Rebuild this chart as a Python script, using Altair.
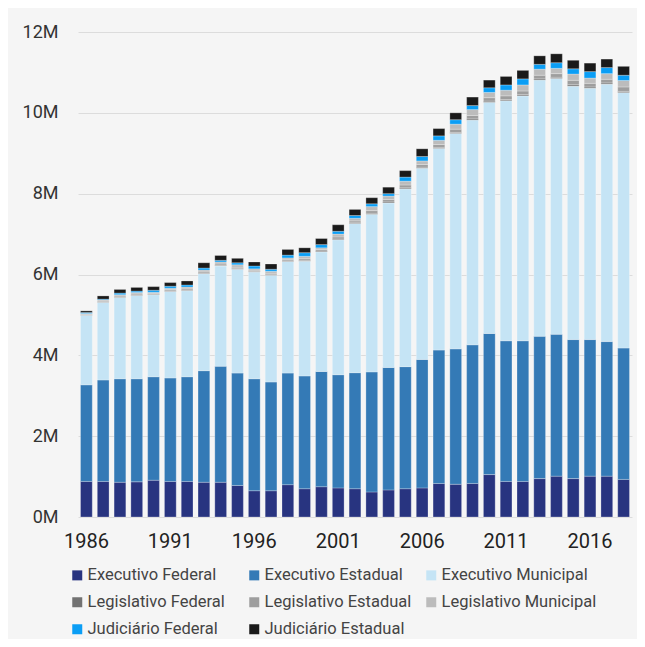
import altair as alt
import pandas as pd

FONT = "Roboto"

years = list(range(1986, 2019))

categorias = [
    "Executivo Federal", "Executivo Estadual", "Executivo Municipal",
    "Legislativo Federal", "Legislativo Estadual", "Legislativo Municipal",
    "Judiciário Federal", "Judiciário Estadual",
]
cores = ["#283480", "#347ab6", "#c5e4f5", "#727272", "#9e9e9e", "#bcbcbc", "#0b9ef5", "#1a1a1a"]

# values in millions of employees
exec_federal = [0.88, 0.88, 0.86, 0.87, 0.91, 0.88, 0.88, 0.86, 0.86, 0.78, 0.65, 0.65, 0.80, 0.70, 0.75, 0.72, 0.70,
                0.62, 0.67, 0.70, 0.72, 0.83, 0.81, 0.83, 1.05, 0.88, 0.88, 0.95, 1.01, 0.95, 1.01, 1.01, 0.93]
exec_estadual = [2.39, 2.51, 2.56, 2.55, 2.56, 2.56, 2.59, 2.76, 2.87, 2.78, 2.77, 2.69, 2.76, 2.79, 2.85, 2.80, 2.87,
                 2.97, 3.03, 3.02, 3.18, 3.30, 3.35, 3.43, 3.49, 3.48, 3.48, 3.52, 3.51, 3.44, 3.38, 3.33, 3.25]
exec_municipal = [1.72, 1.92, 2.01, 2.06, 2.03, 2.14, 2.13, 2.40, 2.48, 2.57, 2.64, 2.64, 2.76, 2.84, 2.96, 3.34, 3.69,
                  3.90, 4.07, 4.40, 4.73, 4.99, 5.33, 5.56, 5.72, 5.94, 6.06, 6.34, 6.33, 6.27, 6.22, 6.37, 6.32]
leg_federal = [0.010, 0.015, 0.015, 0.015, 0.015, 0.015, 0.015, 0.015, 0.015, 0.015, 0.015, 0.015, 0.015, 0.020, 0.020,
               0.020, 0.020, 0.025, 0.025, 0.025, 0.025, 0.025, 0.025, 0.030, 0.030, 0.030, 0.030, 0.030, 0.030, 0.035,
               0.030, 0.030, 0.030]
leg_estadual = [0.015, 0.020, 0.025, 0.025, 0.020, 0.030, 0.030, 0.030, 0.035, 0.035, 0.030, 0.035, 0.030, 0.040, 0.035,
                0.050, 0.045, 0.065, 0.060, 0.070, 0.065, 0.070, 0.080, 0.085, 0.085, 0.090, 0.090, 0.090, 0.090, 0.110,
                0.090, 0.090, 0.110]
leg_municipal = [0.020, 0.025, 0.030, 0.035, 0.025, 0.035, 0.045, 0.045, 0.050, 0.060, 0.035, 0.050, 0.045, 0.060, 0.045,
                 0.070, 0.065, 0.100, 0.085, 0.095, 0.090, 0.105, 0.125, 0.145, 0.130, 0.140, 0.150, 0.150, 0.130, 0.155,
                 0.130, 0.140, 0.160]
jud_federal = [0.025, 0.020, 0.040, 0.035, 0.050, 0.050, 0.050, 0.050, 0.040, 0.050, 0.070, 0.050, 0.070, 0.090, 0.080,
               0.070, 0.070, 0.070, 0.060, 0.100, 0.110, 0.110, 0.110, 0.100, 0.115, 0.130, 0.150, 0.120, 0.140, 0.130,
               0.160, 0.150, 0.130]
jud_estadual = [0.040, 0.080, 0.090, 0.090, 0.090, 0.090, 0.100, 0.130, 0.120, 0.110, 0.100, 0.130, 0.140, 0.120, 0.150,
                0.160, 0.150, 0.150, 0.160, 0.160, 0.190, 0.180, 0.170, 0.210, 0.190, 0.210, 0.210, 0.210, 0.220, 0.210,
                0.210, 0.210, 0.220]

series = [exec_federal, exec_estadual, exec_municipal, leg_federal, leg_estadual, leg_municipal, jud_federal, jud_estadual]

rows = []
for i, ano in enumerate(years):
    for k, (nome, arr) in enumerate(zip(categorias, series)):
        rows.append({"ano": str(ano), "categoria": nome, "valor": arr[i], "ordem": k})
df = pd.DataFrame(rows)

x_labels = [str(a) for a in range(1986, 2019, 5)]

chart = alt.Chart(df).mark_bar(stroke="#ffffff", strokeWidth=0.5, strokeOpacity=0.5).encode(
    x=alt.X("ano:O", title=None, sort=[str(a) for a in years],
            scale=alt.Scale(paddingInner=0.3, paddingOuter=0.15),
            axis=alt.Axis(values=x_labels, labelAngle=0, labelFontSize=20, labelColor="#222222",
                          labelPadding=14, ticks=False, domain=False, grid=False, labelFont=FONT)),
    y=alt.Y("valor:Q", stack="zero", title=None,
            scale=alt.Scale(domain=[0, 12], nice=False),
            axis=alt.Axis(values=[0, 2, 4, 6, 8, 10, 12], labelExpr="datum.value + 'M'",
                          labelFontSize=18, labelColor="#333333", labelPadding=20, ticks=False,
                          domain=False, grid=True, gridColor="#dcdcdc", gridWidth=1, labelFont=FONT)),
    color=alt.Color("categoria:N", scale=alt.Scale(domain=categorias, range=cores),
                    legend=alt.Legend(title=None, orient="none", legendX=-9, legendY=535, columns=3,
                                      direction="horizontal", symbolType="square", symbolSize=100,
                                      symbolStrokeWidth=0, symbolOpacity=1, labelFontSize=16.5,
                                      labelColor="#444444", labelFont=FONT, rowPadding=10,
                                      columnPadding=3, gridAlign="all", labelOffset=2,
                                      labelLimit=300, padding=0)),
    order=alt.Order("ordem:Q", sort="ascending"),
).properties(
    width=554, height=485, background="#f5f5f5",
    padding={"left": 70, "top": 24, "right": 5, "bottom": 122},
    autosize=alt.AutoSizeParams(type="none"),
).configure_view(stroke=None)

chart.save("out.html", embed_options={"renderer": "svg", "actions": False})
